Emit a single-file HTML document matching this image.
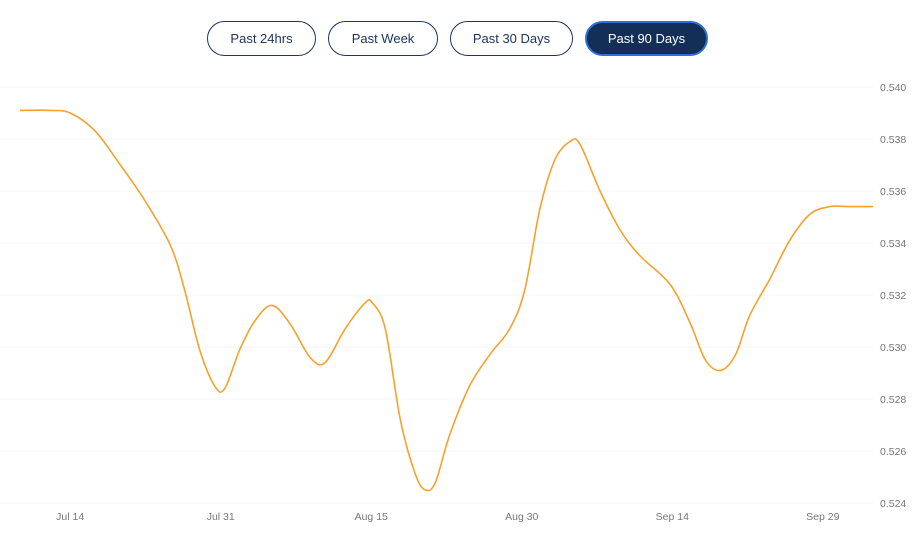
<!DOCTYPE html>
<html><head><meta charset="utf-8"><style>
body{margin:0;width:923px;height:543px;background:#fff;font-family:"Liberation Sans",sans-serif;overflow:hidden;position:relative}
.btn{position:absolute;top:21px;height:35px;border:1.5px solid #1b3564;border-radius:18px;background:#fff;color:#1b3564;font-size:13px;display:flex;align-items:center;justify-content:center;box-sizing:border-box}
.btn.active{background:#132f58;color:#fff;border:2px solid #2f6fd6}
svg{position:absolute;left:0;top:0}
</style></head><body>
<div class="btn" style="left:207px;width:109px">Past 24hrs</div>
<div class="btn" style="left:328px;width:110px">Past Week</div>
<div class="btn" style="left:450px;width:123px">Past 30 Days</div>
<div class="btn active" style="left:585px;width:123px">Past 90 Days</div>
<svg id="chart" width="923" height="543"></svg>
<script>
const days=[0,3,5,7.5,10,12.5,15,16.4,17.9,19.4,20.4,21.9,23.4,25.1,26.9,28.9,30.4,32.4,34.4,35.1,36.4,37.9,39.4,40.4,41.4,42.8,44.8,46.8,48.8,50.3,51.8,53.3,54.8,55.8,57.8,59.8,61.8,64.8,66.8,68.3,69.8,71.3,72.7,74.7,76.7,78.7,80.7,82.7,85];
const values=[0.5391,0.5391,0.5390,0.5383,0.5370,0.5356,0.5339,0.5322,0.5299,0.5285,0.5284,0.5299,0.5310,0.5316,0.5309,0.5296,0.5294,0.5307,0.5317,0.5317,0.5307,0.5272,0.5251,0.5245,0.5248,0.5266,0.5285,0.5297,0.5307,0.5322,0.5353,0.5372,0.5379,0.5378,0.5360,0.5345,0.5335,0.5324,0.5309,0.5295,0.5291,0.5297,0.5312,0.5326,0.5341,0.5351,0.5354,0.5354,0.5354];
const yTicks=[0.524,0.526,0.528,0.530,0.532,0.534,0.536,0.538,0.540];
const xTickDays=[5,20,35,50,65,80];
const xTickLabels=["Jul 14","Jul 31","Aug 15","Aug 30","Sep 14","Sep 29"];
const NS="http://www.w3.org/2000/svg";
const svg=document.getElementById('chart');
const X=d=>20+d*(853/85);
const Y=v=>503-(v-0.524)*26000;
function mk(t,a){const e=document.createElementNS(NS,t);for(const k in a)e.setAttribute(k,a[k]);svg.appendChild(e);return e;}
yTicks.forEach(v=>{
 const g=mk('line',{x1:0,x2:873,y1:Y(v),y2:Y(v),stroke:'#f5f5f5','stroke-width':1});
 
 
 const t=mk('text',{x:880,y:Y(v)+4,'font-size':10.5,fill:'#777','font-family':'Liberation Sans, sans-serif'});
 t.textContent=v.toFixed(3);
 
 
});
xTickDays.forEach((d,i)=>{
 const t=mk('text',{x:X(d),y:520,'font-size':10.5,fill:'#777','text-anchor':'middle','font-family':'Liberation Sans, sans-serif'});
 t.textContent=xTickLabels[i];
 
 
});
const pts=days.map((d,i)=>[X(d),Y(values[i])]);
let p='M'+pts[0][0]+','+pts[0][1];
for(let i=0;i<pts.length-1;i++){
 const p0=pts[Math.max(0,i-1)],p1=pts[i],p2=pts[i+1],p3=pts[Math.min(pts.length-1,i+2)];
 const c1=[p1[0]+(p2[0]-p0[0])/6,p1[1]+(p2[1]-p0[1])/6];
 const c2=[p2[0]-(p3[0]-p1[0])/6,p2[1]-(p3[1]-p1[1])/6];
 p+=' C'+c1+' '+c2+' '+p2;
}
const line=mk('path',{d:p,fill:'none',stroke:'#f7a12b','stroke-width':1.6});


</script>
</body></html>
